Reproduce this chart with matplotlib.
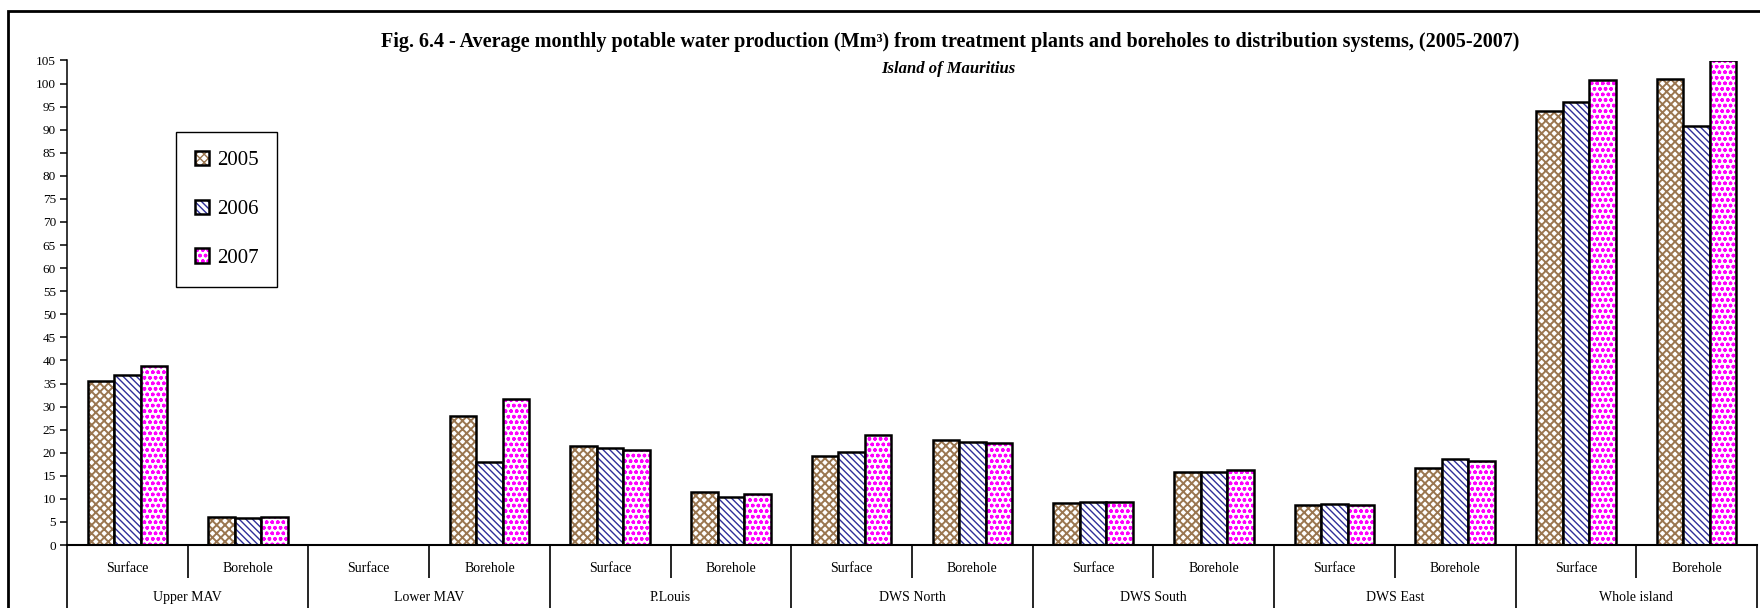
import matplotlib
matplotlib.use("Agg")
import matplotlib.pyplot as plt
from matplotlib.patches import Patch, Rectangle
from matplotlib.legend_handler import HandlerTuple
import numpy as np

plt.rcParams["font.family"] = ["Liberation Serif", "DejaVu Serif"]
plt.rcParams["hatch.linewidth"] = 1.0

# data (Mm3)
groups = ["Upper MAV", "Lower MAV", "P.Louis", "DWS North", "DWS South", "DWS East", "Whole island"]
sources = ["Surface", "Borehole"]
years = ["2005", "2006", "2007"]
v2005 = [35.6, 6.1, 0, 28.0, 21.4, 11.5, 19.2, 22.8, 9.2, 15.9, 8.7, 16.7, 94.1, 100.9]
v2006 = [36.9, 5.9, 0, 17.9, 21.0, 10.4, 20.2, 22.4, 9.3, 15.9, 8.9, 18.7, 96.1, 90.9]
v2007 = [38.8, 6.1, 0, 31.7, 20.5, 11.0, 23.8, 22.1, 9.3, 16.3, 8.6, 18.2, 100.7, 105.0]

series = [v2005, v2006, v2007]
hatch_cols = ["#9a7650", "#2e2e9a", "#ff00ff"]
hatches = ["xxxx", "\\" * 5, "ooo"]
hatch_lw = [1.4, 1.0, 1.0]

fig = plt.figure(figsize=(17.6, 6.08), dpi=100)
ax = fig.add_axes([67 / 1760, 1 - 545 / 608, 1690 / 1760, 484.5 / 608])

x = np.arange(len(v2005))
w = 0.22
handles = []
for i, vals in enumerate(series):
    plt.rcParams["hatch.linewidth"] = hatch_lw[i]
    pos = x + (i - 1) * w
    ax.bar(pos, vals, w, color="white", edgecolor=hatch_cols[i], hatch=hatches[i], linewidth=0)
    ax.bar(pos, vals, w, fill=False, edgecolor="black", linewidth=1.8)
    handles.append((Patch(facecolor="white", edgecolor=hatch_cols[i], hatch=hatches[i], linewidth=0),
                    Patch(fill=False, edgecolor="black", linewidth=1.8)))
plt.rcParams["hatch.linewidth"] = 1.0

ax.set_xlim(-0.5, len(x) - 0.5)
ax.set_ylim(0, 105)
ax.set_yticks(np.arange(0, 106, 5))
ax.tick_params(axis="y", labelsize=9.5, length=5, width=1.1, pad=3)

# first level x labels
ax.set_xticks(x)
ax.set_xticklabels(sources * len(groups), fontsize=10)
ax.tick_params(axis="x", length=0, pad=12.5)

for s in ["top", "right"]:
    ax.spines[s].set_visible(False)
ax.spines["bottom"].set_linewidth(1.5)
ax.spines["left"].set_linewidth(1.1)

# dividers under the axis
tr = ax.get_xaxis_transform()
short = np.arange(0.5, len(x) - 1, 2)
long_ = np.arange(-0.5, len(x), 2)
ax.vlines(short, -0.068, 0, transform=tr, colors="black", linewidth=1.2, clip_on=False)
ax.vlines(long_, -0.2, 0, transform=tr, colors="black", linewidth=1.2, clip_on=False)

# second level labels
for k, g in enumerate(groups):
    ax.text(2 * k + 0.5, -0.108, g, transform=tr, ha="center", va="center", fontsize=10)

ax.legend(handles, years, handler_map={tuple: HandlerTuple(ndivide=1)},
          loc="upper left", bbox_to_anchor=(176 / 1760, 1 - 132 / 608),
          bbox_transform=fig.transFigure, fontsize=15, frameon=True, fancybox=False,
          edgecolor="black", framealpha=1, labelspacing=1.4, handlelength=0.7,
          handleheight=0.7, handletextpad=0.35, borderpad=0.9, borderaxespad=0)
ax.get_legend().get_frame().set_linewidth(1.0)

fig.text(950 / 1760, 1 - 42 / 608,
         "Fig. 6.4 - Average monthly potable water production (Mm³) from treatment plants and boreholes to distribution systems, (2005-2007)",
         ha="center", va="center", fontsize=14.5, fontweight="bold")
fig.text(948 / 1760, 1 - 69 / 608, "Island of Mauritius",
         ha="center", va="center", fontsize=12, fontweight="bold", fontstyle="italic")

# outer frame (left and top edges visible)
fig.add_artist(Rectangle((8 / 1760, -0.1), 1.2, 1.1 - 11 / 608, transform=fig.transFigure,
                         fill=False, edgecolor="black", linewidth=2, clip_on=False))

fig.savefig("out.png", dpi=100)
